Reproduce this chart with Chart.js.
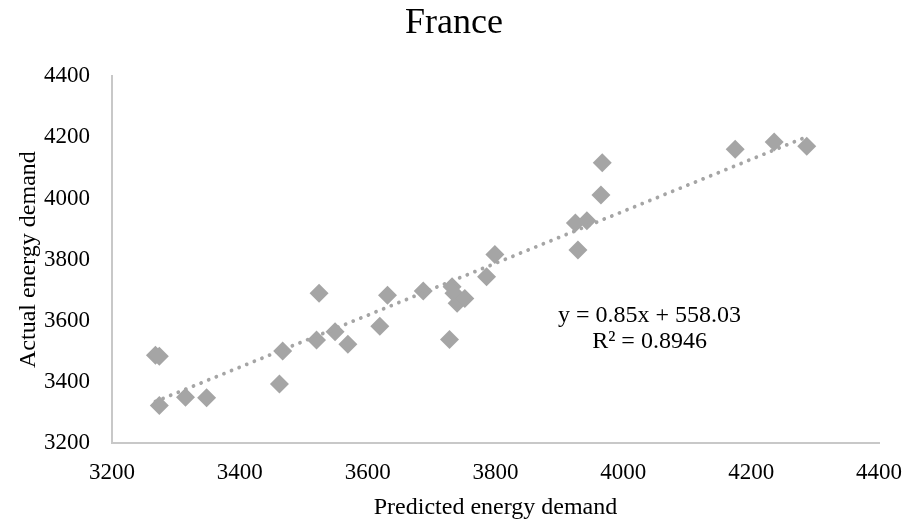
<!DOCTYPE html>
<html>
<head>
<meta charset="utf-8">
<script src="https://cdn.jsdelivr.net/npm/chart.js@4.4.1/dist/chart.umd.min.js"></script>
<style>
  body { margin: 0; background: #fff; }
  #wrap { width: 908px; height: 529px; }
</style>
</head>
<body>
<div id="wrap"><canvas id="graphCanvas" width="908" height="529"></canvas></div>
<script>
// predicted vs actual energy demand
var predicted = [3268, 3274, 3274, 3315, 3348, 3462, 3467, 3520, 3524, 3549,
                 3569, 3619, 3631, 3687, 3728, 3732, 3735, 3740, 3752, 3786,
                 3799, 3925, 3929, 3943, 3965, 3967, 4175, 4236, 4287];
var actual    = [3487, 3484, 3323, 3350, 3348, 3393, 3501, 3537, 3690, 3564,
                 3523, 3582, 3683, 3697, 3539, 3711, 3690, 3657, 3673, 3744,
                 3817, 3920, 3831, 3927, 4011, 4117, 4161, 4185, 4171];

var trendSlope = 0.85;
var trendIntercept = 558.03;
var eqLines = ['y = 0.85x + 558.03', 'R\u00B2 = 0.8946'];
var eqAt = { x: 4041, y: 3596 };

var serif = "'Liberation Serif', 'Times New Roman', serif";
var grey = '#A5A5A5';

var points = [];
for (var i = 0; i < predicted.length; i++) {
    points.push({ x: predicted[i], y: actual[i] });
}
var xMin = Math.min.apply(null, predicted);
var xMax = Math.max.apply(null, predicted);
var trend = [
    { x: xMin, y: trendSlope * xMin + trendIntercept },
    { x: xMax, y: trendSlope * xMax + trendIntercept }
];

// draws the trendline equation like excel does
var equationLabel = {
    id: 'equationLabel',
    afterDatasetsDraw: function (chart) {
        var ctx = chart.ctx;
        var px = chart.scales.x.getPixelForValue(eqAt.x);
        var py = chart.scales.y.getPixelForValue(eqAt.y);
        ctx.save();
        ctx.fillStyle = '#000';
        ctx.font = '24px ' + serif;
        ctx.textAlign = 'center';
        ctx.textBaseline = 'alphabetic';
        for (var k = 0; k < eqLines.length; k++) {
            ctx.fillText(eqLines[k], px, py + k * 26);
        }
        ctx.restore();
    }
};

function plainTick(v) { return String(v); }

var axisStyle = {
    min: 3200,
    max: 4400,
    grid: { display: false, drawTicks: false },
    border: { display: true, color: '#C8C8C8', width: 2 }
};

new Chart(document.getElementById('graphCanvas'), {
    type: 'scatter',
    data: {
        datasets: [
            {
                type: 'line',
                label: 'Linear',
                data: trend,
                borderColor: grey,
                borderWidth: 3.8,
                borderDash: [0.01, 8.2],
                borderCapStyle: 'round',
                pointRadius: 0,
                fill: false,
                order: 0
            },
            {
                label: 'France',
                data: points,
                pointStyle: 'rectRot',
                pointRadius: 9.5,
                pointHoverRadius: 9.5,
                backgroundColor: grey,
                borderColor: grey,
                borderWidth: 0,
                order: 1
            }
        ]
    },
    options: {
        responsive: false,
        animation: false,
        layout: { padding: 0 },
        plugins: {
            legend: { display: false },
            tooltip: { enabled: false },
            title: {
                display: true,
                text: 'France',
                color: '#000',
                font: { family: serif, size: 36, weight: 'normal', lineHeight: 1.2 },
                padding: { top: 2, bottom: 31 }
            }
        },
        scales: {
            x: Object.assign({}, axisStyle, {
                type: 'linear',
                position: 'bottom',
                ticks: { stepSize: 200, padding: 16, color: '#000', font: { family: serif, size: 23 }, callback: plainTick },
                title: {
                    display: true,
                    text: 'Predicted energy demand',
                    color: '#000',
                    font: { family: serif, size: 24, lineHeight: 1.2 },
                    padding: { top: 0, bottom: 7 }
                },
                afterFit: function (s) { s.height = 86; s.paddingLeft = 0; s.paddingRight = 0; }
            }),
            y: Object.assign({}, axisStyle, {
                type: 'linear',
                position: 'left',
                ticks: { stepSize: 200, padding: 22, color: '#000', font: { family: serif, size: 23 }, callback: plainTick },
                title: {
                    display: true,
                    text: 'Actual energy demand',
                    color: '#000',
                    font: { family: serif, size: 24, lineHeight: 1.2 },
                    padding: { top: 14, bottom: 0 }
                },
                afterFit: function (s) { s.width = 112; s.paddingTop = 0; s.paddingBottom = 0; }
            }),
            // empty right axis only to keep the plot off the right edge
            yRight: {
                type: 'linear',
                position: 'right',
                display: true,
                grid: { display: false, drawTicks: false },
                border: { display: false },
                ticks: { display: false },
                afterFit: function (s) { s.width = 29; s.paddingTop = 0; s.paddingBottom = 0; }
            }
        }
    },
    plugins: [equationLabel]
});
</script>
</body>
</html>
